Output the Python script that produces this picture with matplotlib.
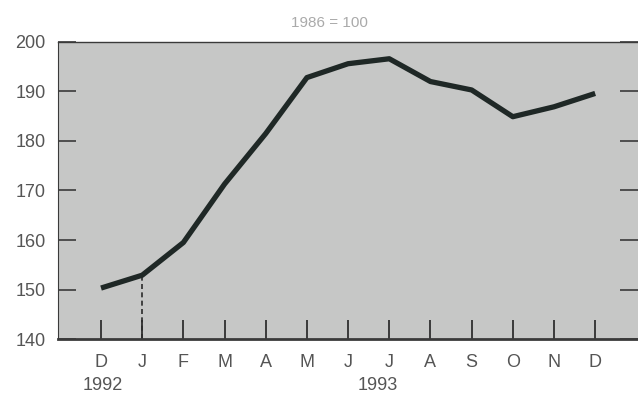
import matplotlib
matplotlib.use("Agg")
import matplotlib.pyplot as plt

plt.rcParams["font.family"] = ["Liberation Sans", "DejaVu Sans"]

# index values, Dec 1992 .. Dec 1993
months = ["D", "J", "F", "M", "A", "M", "J", "J", "A", "S", "O", "N", "D"]
index_vals = [150.3, 152.9, 159.5, 171.3, 181.5, 192.8, 195.6, 196.6, 192.0, 190.3, 184.9, 186.9, 189.6]
yticks = [140, 150, 160, 170, 180, 190, 200]
years = ["1992", "1993"]
year_pos = [0.05, 6.73]

fig = plt.figure(figsize=(6.38, 4.11), dpi=100)
ax = fig.add_axes([0.0909, 0.175, 0.9091, 0.723])
ax.set_facecolor("#c6c7c6")

x = list(range(len(months)))
ax.plot(x, index_vals, color="#1f2826", lw=3.8, solid_capstyle="butt", zorder=3)

# dashed marker at the year break
ax.vlines(1, 140, index_vals[1], colors="#2a2a2a", linestyles=(0, (3, 2)), lw=1.2, zorder=2)

ax.set_xlim(-1.045, 13.04)
ax.set_ylim(140, 200)
ax.set_yticks(yticks)
ax.set_xticks(x)
ax.set_xticklabels(months)

ax.tick_params(axis="y", direction="in", length=13, width=1.2, color="#3a3a3a",
               labelsize=13, labelcolor="#555555", right=True, pad=9)
ax.tick_params(axis="x", direction="in", length=14, width=1.3, color="#2f2f2f",
               labelsize=13, labelcolor="#555555", pad=11)

for s in ax.spines.values():
    s.set_color("#3a3a3a")
ax.spines["bottom"].set_linewidth(2.0)
ax.spines["top"].set_linewidth(1.0)
ax.spines["left"].set_linewidth(0.8)
ax.spines["left"].set_linestyle((0, (1, 1)))
ax.spines["right"].set_visible(False)

for yr, p in zip(years, year_pos):
    ax.text(p, -0.155, yr, transform=ax.get_xaxis_transform(), ha="center", va="center",
            fontsize=13, color="#555555")

fig.text(0.517, 0.945, "1986 = 100", ha="center", va="center", fontsize=11, color="#aaaaaa")

fig.savefig("out.png", dpi=100)
